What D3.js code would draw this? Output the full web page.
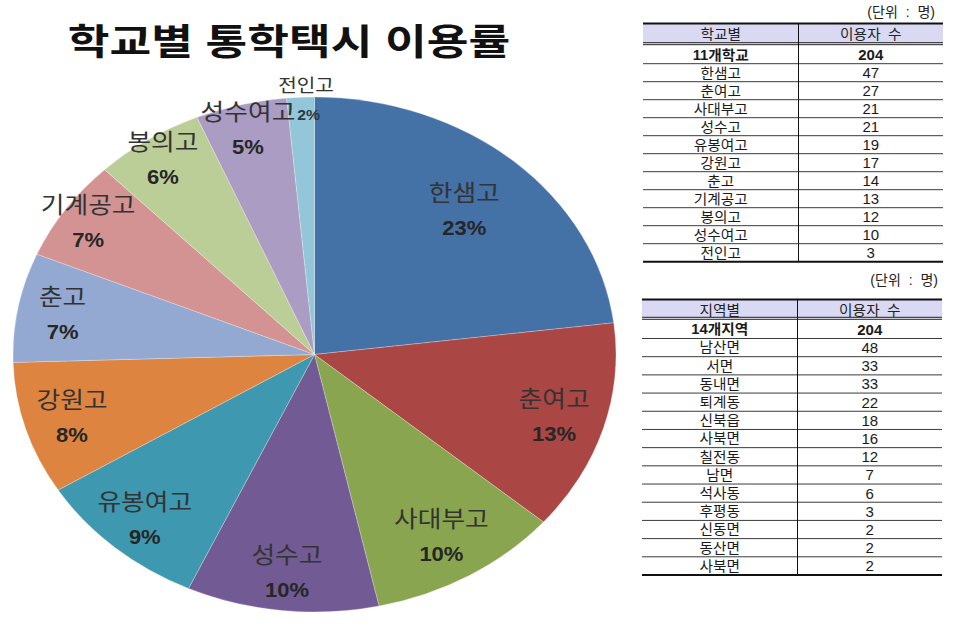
<!DOCTYPE html>
<html><head><meta charset="utf-8">
<script src="https://cdn.jsdelivr.net/npm/d3@7"></script>
<style>body{margin:0;background:#fff}svg{display:block}text{font-family:"Liberation Sans","Noto Sans CJK KR",sans-serif}</style>
</head><body><svg id="c" width="960" height="627"></svg>
<script>
// ---------- data ----------
const title = "학교별 통학택시 이용률";
const schools = ["한샘고","춘여고","사대부고","성수고","유봉여고","강원고","춘고","기계공고","봉의고","성수여고","전인고"];
const schoolCounts = [47,27,21,21,19,17,14,13,12,10,3];
const schoolPct = [23,13,10,10,9,8,7,7,6,5,2];
const schoolHeader = ["학교별","이용자 수"];
const schoolTotalLabel = "11개학교";
const schoolTotal = 204;
const regions = ["남산면","서면","동내면","퇴계동","신북읍","사북면","칠전동","남면","석사동","후평동","신동면","동산면","사북면"];
const regionCounts = [48,33,33,22,18,16,12,7,6,3,2,2,2];
const regionHeader = ["지역별","이용자 수"];
const regionTotalLabel = "14개지역";
const regionTotal = 204;
const unitLabel = "(단위 : 명)";

// ---------- style / layout ----------
const colors = ["#4471A6","#AA4644","#8AA54F","#725A94","#3E98AF","#DD8440","#93A9D2","#D49393","#BBCE98","#AA9CC3","#93C6D8"];
const labelRadius = [0.75,0.83,0.82,0.85,0.85,0.84,0.85,0.91,0.91,0.905,0.93];

const svg = d3.select("#c");

// title
svg.append("text").attr("transform","translate(289,43) scale(1.26,1)")
  .attr("text-anchor","middle").attr("dominant-baseline","central")
  .attr("font-size",36).attr("font-weight",700).attr("fill","#111").text(title);

// pie
const cx = 314.5, cy = 354.5, ry = 257.5, sx = 301.5/257.5;
const arcs = d3.pie().sort(null).value(d => d)(schoolCounts);
const arc = d3.arc().innerRadius(0).outerRadius(ry);
const g = svg.append("g").attr("transform",`translate(${cx},${cy}) scale(${sx},1)`);
g.selectAll("path").data(arcs).join("path")
  .attr("d",arc).attr("fill",(d,i)=>colors[i])
  .attr("stroke","#fff").attr("stroke-opacity",0.35).attr("stroke-width",0.7);

const lbl = svg.append("g");
arcs.forEach((d,i) => {
  const a = (d.startAngle + d.endAngle)/2;
  const r = labelRadius[i]*ry;
  const x = cx + sx*r*Math.sin(a), y = cy - r*Math.cos(a);
  const small = (d.endAngle - d.startAngle) < 0.1;
  if (small) {
    const ro = 1.045*ry;
    const nx = cx + sx*ro*Math.sin(a) + 6, ny = cy - ro*Math.cos(a);
    lbl.append("text").attr("transform",`translate(${nx},${ny}) scale(1.12,1)`)
      .attr("text-anchor","middle").attr("dominant-baseline","central")
      .attr("font-size",18).attr("fill","#333").text(schools[i]);
    lbl.append("text").attr("transform",`translate(${x+7},${y-1}) scale(1.05,1)`)
      .attr("text-anchor","middle").attr("dominant-baseline","central")
      .attr("font-size",15).attr("font-weight",700).attr("fill","#2a3a40").text(schoolPct[i]+"%");
  } else {
    lbl.append("text").attr("transform",`translate(${x},${y-17}) scale(1.12,1)`)
      .attr("text-anchor","middle").attr("dominant-baseline","central")
      .attr("font-size",23).attr("fill","#333").text(schools[i]);
    lbl.append("text").attr("transform",`translate(${x},${y+18}) scale(1.1,1)`)
      .attr("text-anchor","middle").attr("dominant-baseline","central")
      .attr("font-size",20).attr("font-weight",700).attr("fill","#262626").text(schoolPct[i]+"%");
  }
});

// tables
function drawTable(opt, header, totalLabel, total, names, counts) {
  const t = svg.append("g");
  const {x0, xm, x1, top, hdr, bottom, unitX, unitY} = opt;
  const colMid = [(x0+xm)/2, (xm+x1)/2];
  const rowsLabels = [totalLabel, ...names];
  const rowVals = [total, ...counts];
  const rowsTop = hdr + 2;
  const y = d3.scaleBand().domain(d3.range(rowsLabels.length)).range([rowsTop, bottom]);

  t.append("text").attr("x",unitX).attr("y",unitY).attr("text-anchor","end")
    .attr("dominant-baseline","central").attr("font-size",14).attr("word-spacing",4)
    .attr("fill","#222").text(unitLabel);

  t.append("rect").attr("x",x0).attr("y",top).attr("width",x1-x0).attr("height",hdr-top)
    .attr("fill","#D9D9F4");
  header.forEach((h,k)=>{
    t.append("text").attr("transform",`translate(${colMid[k]},${(top+hdr)/2+1}) scale(1.05,1)`).attr("text-anchor","middle")
      .attr("dominant-baseline","central").attr("font-size",14).attr("word-spacing",3)
      .attr("fill","#222").text(h);
  });
  rowsLabels.forEach((lab,k)=>{
    const yc = y(k) + y.bandwidth()/2;
    t.append("text").attr("transform",`translate(${colMid[0]},${yc}) scale(1.05,1)`).attr("text-anchor","middle")
      .attr("dominant-baseline","central").attr("font-size",14)
      .attr("font-weight",k===0?700:400).attr("fill","#1a1a1a").text(lab);
    t.append("text").attr("transform",`translate(${colMid[1]},${yc})`).attr("text-anchor","middle")
      .attr("dominant-baseline","central").attr("font-size",15)
      .attr("font-weight",k===0?700:400).attr("fill","#1a1a1a").text(rowVals[k]);
    if (k>0) t.append("line").attr("x1",x0).attr("x2",x1).attr("y1",y(k)).attr("y2",y(k))
      .attr("stroke","#3a3a3a").attr("stroke-width",1);
  });
  // borders
  t.append("line").attr("x1",x0).attr("x2",x1).attr("y1",top).attr("y2",top).attr("stroke","#111").attr("stroke-width",2);
  t.append("line").attr("x1",x0).attr("x2",x1).attr("y1",hdr-1).attr("y2",hdr-1).attr("stroke","#222").attr("stroke-width",1);
  t.append("line").attr("x1",x0).attr("x2",x1).attr("y1",hdr+1).attr("y2",hdr+1).attr("stroke","#222").attr("stroke-width",1);
  t.append("line").attr("x1",x0).attr("x2",x1).attr("y1",bottom).attr("y2",bottom).attr("stroke","#111").attr("stroke-width",2);
  t.append("line").attr("x1",xm).attr("x2",xm).attr("y1",top).attr("y2",bottom).attr("stroke","#111").attr("stroke-width",1);
}

drawTable({x0:643, xm:798.5, x1:943, top:23.5, hdr:43.7, bottom:261.7, unitX:935, unitY:12},
  schoolHeader, schoolTotalLabel, schoolTotal, schools, schoolCounts);
drawTable({x0:642, xm:797.5, x1:942, top:299.5, hdr:318.3, bottom:575, unitX:938, unitY:280},
  regionHeader, regionTotalLabel, regionTotal, regions, regionCounts);
</script>
</body></html>
